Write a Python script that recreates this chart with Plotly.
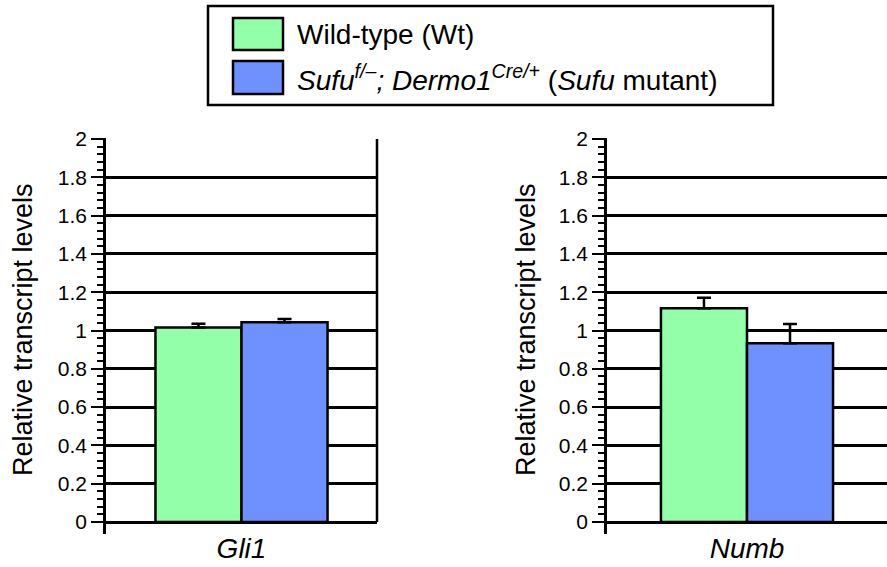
import plotly.graph_objects as go

# ---- data ----
genes = ["Gli1", "Numb"]
wt_mean = [1.015, 1.116]
wt_err = [0.020, 0.055]
mut_mean = [1.043, 0.933]
mut_err = [0.017, 0.101]
series_names = ["Wild-type (Wt)", "Sufu mutant"]
y_ticks = [0, 0.2, 0.4, 0.6, 0.8, 1, 1.2, 1.4, 1.6, 1.8, 2]
y_ticktext = ["0", "0.2", "0.4", "0.6", "0.8", "1", "1.2", "1.4", "1.6", "1.8", "2"]
minor_ticks = [round(i * 0.04, 2) for i in range(51)]
y_title = "Relative transcript levels"

GREEN = "#93FFA8"
BLUE = "#6F91FF"
FONT = "Liberation Sans, Arial, Helvetica, sans-serif"
W, H = 887, 567

fig = go.Figure()
axes = [("x", "y"), ("x2", "y2")]
for i, g in enumerate(genes):
    xa, ya = axes[i]
    for name, means, errs, col in [(series_names[0], wt_mean, wt_err, GREEN),
                                   (series_names[1], mut_mean, mut_err, BLUE)]:
        fig.add_trace(go.Bar(
            x=[g], y=[means[i]], name=name, xaxis=xa, yaxis=ya,
            marker=dict(color=col, line=dict(color="black", width=2.5)),
            error_y=dict(type="data", array=[errs[i]], arrayminus=[0], symmetric=False,
                         color="black", thickness=2.5, width=7),
            showlegend=False,
        ))

y_dom = [(H - 534.06) / H, (H - 138.04) / H]
yaxis_common = dict(
    range=[-0.063, 2.005], domain=y_dom, automargin=False,
    tickvals=y_ticks, ticktext=y_ticktext,
    tickfont=dict(family=FONT, size=21, color="black"),
    ticks="outside", ticklen=12, tickwidth=2, tickcolor="black",
    showline=True, linecolor="black", linewidth=2.5,
    showgrid=True, gridcolor="black", gridwidth=2.5,
    zeroline=False,
    minor=dict(tickvals=minor_ticks, ticks="outside", ticklen=6, tickwidth=2,
               tickcolor="black", showgrid=False),
)
xaxis_common = dict(
    type="category", showline=False, ticks="", showgrid=False, zeroline=False,
    automargin=False, ticklabelstandoff=-5,
    tickfont=dict(family=FONT, size=28, color="black", style="italic"),
)

half_r = (887 - 607) / 271 / 2
fig.update_layout(
    width=W, height=H,
    margin=dict(l=0, r=0, t=0, b=0, autoexpand=False),
    paper_bgcolor="white", plot_bgcolor="white",
    barmode="group", bargap=0.365, bargroupgap=0,
    xaxis=dict(domain=[106 / W, 377 / W], range=[-0.5, 0.5], anchor="y", **xaxis_common),
    yaxis=dict(anchor="x", **yaxis_common),
    xaxis2=dict(domain=[607 / W, 1.0], range=[-half_r, half_r], anchor="y2", **xaxis_common),
    yaxis2=dict(anchor="x2", **yaxis_common),
    font=dict(family=FONT, color="black"),
)

# right border of left panel
fig.add_shape(type="line", xref="x domain", yref="y", x0=1, x1=1, y0=0, y1=2,
              line=dict(color="black", width=2.5))

# y-axis titles
for xc in [23, 526]:
    fig.add_annotation(text=y_title, xref="paper", yref="paper",
                       x=xc / W, y=(H - 330) / H, xanchor="center", yanchor="middle",
                       textangle=-90, showarrow=False,
                       font=dict(family=FONT, size=27, color="black"))

# custom legend
def px_x(v):
    return v / W

def px_y(v):
    return (H - v) / H

fig.add_shape(type="rect", xref="paper", yref="paper",
              x0=px_x(208), x1=px_x(773), y0=px_y(105), y1=px_y(6),
              line=dict(color="black", width=2.5), fillcolor="white", layer="below")
legend_items = [
    (GREEN, series_names[0], 18, 50),
    (BLUE, "<i>Sufu</i><sup><i>f/–</i></sup><i>; Dermo1</i><sup><i>Cre/+</i></sup> (<i>Sufu</i> mutant)", 61, 94),
]
for col, label, yt, yb in legend_items:
    fig.add_shape(type="rect", xref="paper", yref="paper",
                  x0=px_x(233), x1=px_x(283), y0=px_y(yb), y1=px_y(yt),
                  line=dict(color="black", width=2.5), fillcolor=col)
    fig.add_annotation(text=label, xref="paper", yref="paper",
                       x=px_x(295), y=px_y((yt + yb) / 2), xanchor="left", yanchor="middle",
                       showarrow=False, font=dict(family=FONT, size=28, color="black"))

fig.write_html("out.html", config={"displayModeBar": False},
               post_script="document.body.style.margin='0';")
